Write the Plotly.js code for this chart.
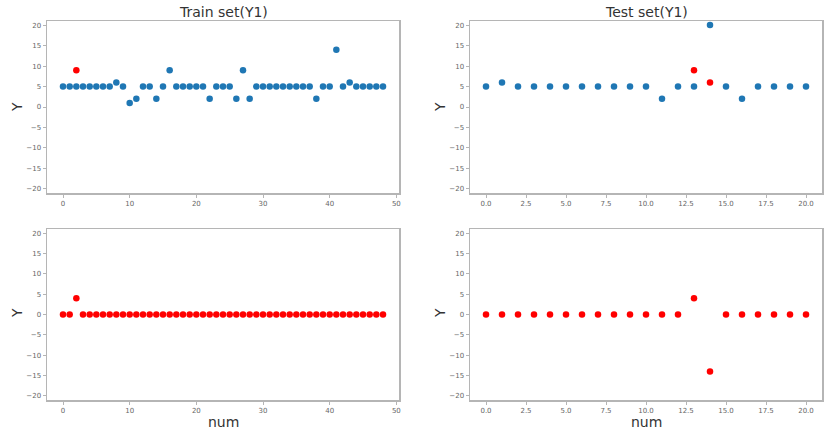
<!DOCTYPE html>
<html>
<head>
<meta charset="utf-8">
<script src="https://cdn.plot.ly/plotly-3.0.1.min.js"></script>
<style>html,body{margin:0;padding:0;background:#fff;}#chart{width:827px;height:433px;}</style>
</head>
<body>
<div id="chart"></div>
<script>
// Train set (Y1)
const trainX = [0,1,2,3,4,5,6,7,8,9,10,11,12,13,14,15,16,17,18,19,20,21,22,23,24,25,26,27,28,29,30,31,32,33,34,35,36,37,38,39,40,41,42,43,44,45,46,47,48];
const trainY = [5,5,5,5,5,5,5,5,6,5,1,2,5,5,2,5,9,5,5,5,5,5,2,5,5,5,2,9,2,5,5,5,5,5,5,5,5,5,2,5,5,14,5,6,5,5,5,5,5];
const trainAnomX = [2];
const trainAnomY = [9];
const trainLowerY = [0,0,4,0,0,0,0,0,0,0,0,0,0,0,0,0,0,0,0,0,0,0,0,0,0,0,0,0,0,0,0,0,0,0,0,0,0,0,0,0,0,0,0,0,0,0,0,0,0];
// Test set (Y1)
const testX = [0,1,2,3,4,5,6,7,8,9,10,11,12,13,14,15,16,17,18,19,20];
const testY = [5,6,5,5,5,5,5,5,5,5,5,2,5,5,20,5,2,5,5,5,5];
const testAnomX = [13,14];
const testAnomY = [9,6];
const testLowerY = [0,0,0,0,0,0,0,0,0,0,0,0,0,4,-14,0,0,0,0,0,0];

const yTicks = [-20,-15,-10,-5,0,5,10,15,20];
const trainTicks = [0,10,20,30,40,50];
const testTicks = [0,2.5,5,7.5,10,12.5,15,17.5,20];
const testTickText = ['0.0','2.5','5.0','7.5','10.0','12.5','15.0','17.5','20.0'];

const BLUE = '#1f77b4', RED = '#ff0000';
const mk = c => ({color: c, size: 6.5});

const traces = [
  {x: trainX, y: trainY, type: 'scatter', mode: 'markers', marker: mk(BLUE), xaxis: 'x', yaxis: 'y'},
  {x: trainAnomX, y: trainAnomY, type: 'scatter', mode: 'markers', marker: mk(RED), xaxis: 'x', yaxis: 'y'},
  {x: testX, y: testY, type: 'scatter', mode: 'markers', marker: mk(BLUE), xaxis: 'x2', yaxis: 'y2'},
  {x: testAnomX, y: testAnomY, type: 'scatter', mode: 'markers', marker: mk(RED), xaxis: 'x2', yaxis: 'y2'},
  {x: trainX, y: trainLowerY, type: 'scatter', mode: 'markers', marker: mk(RED), xaxis: 'x3', yaxis: 'y3'},
  {x: testX, y: testLowerY, type: 'scatter', mode: 'markers', marker: mk(RED), xaxis: 'x4', yaxis: 'y4'}
];

const W = 827, H = 433;
const dx = (a,b) => [a/W, b/W];
const dy = (top,bot) => [1-bot/H, 1-top/H];
const axCommon = {
  showgrid: false, zeroline: false, showline: true, mirror: true,
  linecolor: '#b5b5b5', linewidth: 1.5,
  ticks: 'outside', ticklen: 3, tickcolor: '#b5b5b5', tickwidth: 1,
  tickfont: {family: 'DejaVu Sans', size: 7, color: '#666'}
};
const yax = (anchor, dom) => Object.assign({}, axCommon, {anchor: anchor, domain: dom, range: [-21, 21], tickvals: yTicks, ticktext: yTicks.map(v => v < 0 ? '\u2212' + (-v) : String(v))});
const xTrain = (anchor, dom) => Object.assign({}, axCommon, {anchor: anchor, domain: dom, range: [-2.4, 50.4], tickvals: trainTicks});
const xTest = (anchor, dom) => Object.assign({}, axCommon, {anchor: anchor, domain: dom, range: [-1, 21], tickvals: testTicks, ticktext: testTickText});

const L = dx(47, 399), R = dx(470, 822), T = dy(21, 193), B = dy(229, 400);

const ann = (text, x, y, size, rot) => ({text: text, x: x / W, y: 1 - y / H, xref: 'paper', yref: 'paper', showarrow: false, textangle: rot || 0, font: {family: 'DejaVu Sans', size: size, color: '#333'}, xanchor: 'center', yanchor: 'middle'});

const layout = {
  width: W, height: H,
  margin: {l: 0, r: 0, t: 0, b: 0},
  paper_bgcolor: '#fff', plot_bgcolor: '#fff',
  showlegend: false,
  xaxis: xTrain('y', L), yaxis: yax('x', T),
  xaxis2: xTest('y2', R), yaxis2: yax('x2', T),
  xaxis3: xTrain('y3', L), yaxis3: yax('x3', B),
  xaxis4: xTest('y4', R), yaxis4: yax('x4', B),
  annotations: [
    ann('Train set(Y1)', 223, 12, 14),
    ann('Test set(Y1)', 646, 12, 14),
    ann('Y', 17, 107, 14, -90),
    ann('Y', 440, 107, 14, -90),
    ann('Y', 17, 313, 14, -90),
    ann('Y', 440, 313, 14, -90),
    ann('num', 223, 422, 14),
    ann('num', 646, 422, 14)
  ]
};

Plotly.newPlot('chart', traces, layout, {displayModeBar: false, staticPlot: true});
</script>
</body>
</html>
